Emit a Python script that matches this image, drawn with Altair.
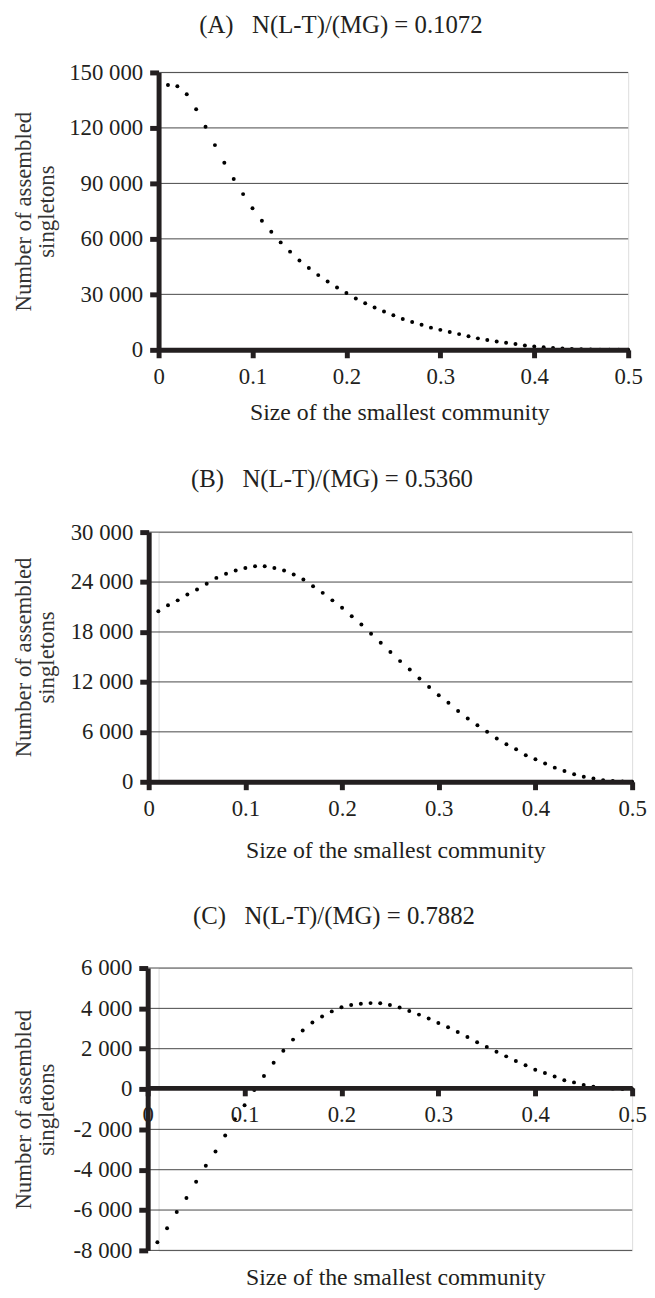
import altair as alt
import pandas as pd

FONT = "Liberation Serif"
INK = "#231f20"
GRID = "#474747"

size_x = [0.01, 0.02, 0.03, 0.04, 0.05, 0.06, 0.07, 0.08, 0.09, 0.10,
          0.11, 0.12, 0.13, 0.14, 0.15, 0.16, 0.17, 0.18, 0.19, 0.20,
          0.21, 0.22, 0.23, 0.24, 0.25, 0.26, 0.27, 0.28, 0.29, 0.30,
          0.31, 0.32, 0.33, 0.34, 0.35, 0.36, 0.37, 0.38, 0.39, 0.40,
          0.41, 0.42, 0.43, 0.44, 0.45, 0.46, 0.47, 0.48, 0.49, 0.50]

singletons_a = [143200, 142500, 138200, 130100, 120600, 110700, 101200, 92400, 84200, 76600,
                69800, 63900, 58100, 53100, 48300, 44300, 40400, 37000, 33700, 30700,
                27800, 25200, 22900, 20700, 18700, 16700, 15100, 13600, 12000, 10800,
                9600, 8500, 7300, 6200, 5300, 4500, 3800, 3100, 2400, 1800,
                1400, 1000, 700, 450, 300, 180, 100, 50, 20, 0]

singletons_b = [20500, 21200, 21800, 22500, 23100, 23800, 24500, 25000, 25400, 25700,
                25900, 25900, 25700, 25400, 24900, 24300, 23500, 22700, 21800, 20900,
                19900, 18900, 17800, 16700, 15600, 14500, 13500, 12400, 11400, 10400,
                9500, 8500, 7600, 6800, 6000, 5200, 4500, 3900, 3200, 2700,
                2200, 1700, 1300, 900, 600, 400, 200, 100, 40, 0]

singletons_c = [-7600, -6900, -6100, -5400, -4600, -3800, -3100, -2300, -1500, -800,
                -50, 650, 1300, 1900, 2450, 2900, 3300, 3600, 3850, 4050,
                4170, 4230, 4260, 4250, 4170, 4040, 3870, 3690, 3500, 3270,
                3060, 2830, 2580, 2320, 2090, 1850, 1620, 1390, 1180, 960,
                800, 620, 440, 330, 200, 110, 50, 20, 5, 0]

x_ticks = [0, 0.1, 0.2, 0.3, 0.4, 0.5]
y_ticks_a = [0, 30000, 60000, 90000, 120000, 150000]
y_ticks_b = [0, 6000, 12000, 18000, 24000, 30000]
y_ticks_c = [-8000, -6000, -4000, -2000, 0, 2000, 4000, 6000]

titles = ["(A)\u00a0\u00a0\u00a0N(L-T)/(MG) = 0.1072",
          "(B)\u00a0\u00a0\u00a0N(L-T)/(MG) = 0.5360",
          "(C)\u00a0\u00a0\u00a0N(L-T)/(MG) = 0.7882"]
x_title = "Size of the smallest community"
y_title = ["Number of assembled", "singletons"]

Y_LABEL = "(datum.value < 0 ? '-' : '') + replace(format(abs(datum.value), ','), ',', ' ')"
X_LABEL = "datum.value == 0 ? '0' : format(datum.value, '.1f')"


def panel(values, title, ydom, yticks, width, height, title_dx, title_offset,
          y_extent, shift=0, x_offset=0, x_title_y=70, x_title_dx=0):
    df = pd.DataFrame({"x": size_x, "y": values})
    grid_df = pd.DataFrame({"g": yticks})
    xscale = alt.Scale(domain=[0, 0.5], nice=False, zero=False, range=[-shift, width])
    yscale = alt.Scale(domain=ydom, nice=False, zero=False)
    xaxis = alt.Axis(
        values=x_ticks, labelExpr=X_LABEL, title=x_title, grid=False,
        domainColor=INK, domainWidth=5, tickColor=INK, tickWidth=5, tickSize=8,
        labelFont=FONT, labelFontSize=23, labelColor=INK, labelPadding=8,
        labelFlush=False, labelOverlap=False,
        titleFont=FONT, titleFontSize=24, titleFontWeight="normal", titleColor=INK,
        titleBaseline="alphabetic", titleY=x_title_y, titleX=width / 2 + x_title_dx,
        titleAlign="center",
        offset=x_offset, zindex=2,
    )
    yaxis = alt.Axis(
        values=yticks, labelExpr=Y_LABEL, title=y_title, grid=False,
        domainColor=INK, domainWidth=5, tickColor=INK, tickWidth=5, tickSize=9,
        labelFont=FONT, labelFontSize=23, labelColor=INK, labelPadding=7,
        labelFlush=False, labelOverlap=False, minExtent=y_extent, offset=shift,
        titleFont=FONT, titleFontSize=23, titleFontWeight="normal", titleColor="#333",
        titleLineHeight=23, titlePadding=10, zindex=1,
    )
    grid = alt.Chart(grid_df).mark_rule(color=GRID, strokeWidth=1).encode(
        y=alt.Y("g:Q", scale=yscale, axis=yaxis),
        x=alt.datum(0, scale=xscale, axis=xaxis),
        x2=alt.datum(0.5),
    )
    dots = alt.Chart(df).mark_circle(size=16, color="black", opacity=1).encode(
        x=alt.X("x:Q", scale=xscale, axis=xaxis),
        y=alt.Y("y:Q", scale=yscale, axis=yaxis),
    )
    return alt.layer(grid, dots).properties(
        width=width, height=height,
        title=alt.TitleParams(title, font=FONT, fontSize=25, fontWeight="normal", color=INK,
                              anchor="middle", frame="group", dx=title_dx,
                              baseline="alphabetic", offset=title_offset),
    )


pa = panel(singletons_a, titles[0], [0, 150000], y_ticks_a, 474, 280, -53, 4, 91,
           x_title_dx=6)
pb = panel(singletons_b, titles[1], [0, 30000], y_ticks_b, 478, 252, -64, 10, 81,
           shift=10, x_title_y=76)
pc = panel(singletons_c, titles[2], [-8000, 6000], y_ticks_c, 478, 285, -62, 8, 80,
           shift=11, x_offset=-164, x_title_y=198)

chart = alt.vconcat(pa, pb, pc, spacing=41).configure_view(stroke=None).configure(
    background="white", padding={"left": 4, "top": -2, "right": 0, "bottom": -1}
)

chart.save("out.html", embed_options={"renderer": "svg", "actions": False})
